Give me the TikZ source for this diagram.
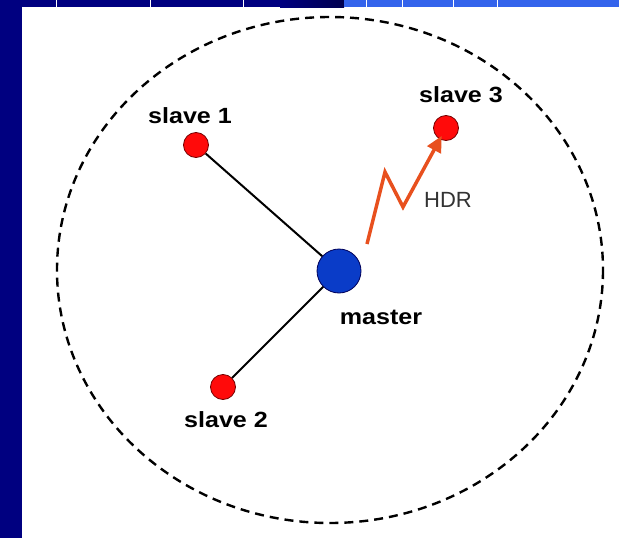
\documentclass[tikz,border=0pt]{standalone}
\usepackage{fontspec}
\setmainfont{Liberation Sans}
\newfontfamily\lblfont{Liberation Sans}[FakeStretch=1.14]
\usepackage{xcolor}
\usetikzlibrary{arrows.meta}
\definecolor{barnavy}{HTML}{000080}
\definecolor{bardark}{HTML}{00004E}
\definecolor{barblue}{HTML}{3464EC}
\definecolor{dotred}{HTML}{FF0A0A}
\definecolor{dotblue}{HTML}{0A3CC8}
\definecolor{hdrorange}{HTML}{E8501E}

\begin{document}
\begin{tikzpicture}[x=1pt,y=-1pt,
  slave/.style={circle,fill=dotred,draw=red!45!black,line width=0.8pt,minimum size=25pt,inner sep=0pt},
  master/.style={circle,fill=dotblue,draw=blue!35!black,line width=0.8pt,minimum size=44pt,inner sep=0pt},
  lbl/.style={font=\lblfont\fontsize{22}{24}\selectfont\bfseries,inner sep=0pt},
  link/.style={line width=2pt},
  hdr/.style={hdrorange,line width=3.5pt,-{Triangle[length=16pt,width=15pt]}}]
  \useasboundingbox (0,0) rectangle (619,538);
  \fill[white] (0,0) rectangle (619,538);
  \fill[barnavy] (0,0) rectangle (22,538);
  \fill[barnavy] (0,0) rectangle (280,7);
  \shade[left color=barnavy,right color=bardark] (280,0) rectangle (344,7);
  \fill[barblue] (344,0) rectangle (619,7);
  \foreach \x in {56,150,243,366,402,453,497}
    \draw[white,line width=0.8pt] (\x,0) -- (\x,7);
  \draw[line width=2.4pt,dash pattern=on 9pt off 6pt] (330,270) ellipse [x radius=273,y radius=253];

  \node[master] (m) at (339,271) {};
  \node[slave] (s1) at (196,145) {};
  \node[slave] (s2) at (223,387) {};
  \node[slave] (s3) at (446,128) {};
  \node[lbl] (lm) at (381,317) {master};
  \node[lbl] (l1) at (190,116) {slave 1};
  \node[lbl] (l2) at (226,420) {slave 2};
  \node[lbl] (l3) at (461,95) {slave 3};

  \draw[link] (s1) -- (m);
  \draw[link] (m) -- (s2);

  \coordinate (h0) at (367,244);
  \coordinate (h1) at (385,172);
  \coordinate (h2) at (403,207);
  \draw[hdr,shorten >=9pt] (h0) -- (h1) -- (h2) -- (s3.center);
  \node[font=\fontsize{22}{24}\selectfont,text=black!80,inner sep=0pt] (lh) at (448,200) {HDR};
\end{tikzpicture}
\end{document}
